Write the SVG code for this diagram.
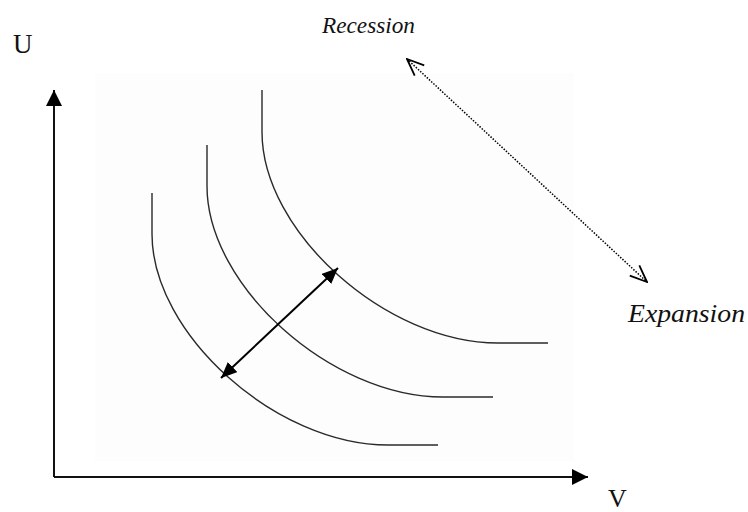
<svg xmlns="http://www.w3.org/2000/svg" width="748" height="512" viewBox="0 0 748 512">
<style>
.curve{fill:none;stroke:#2a2a2a;stroke-width:1.4}
.axis{fill:none;stroke:#111;stroke-width:2}
.lbl{font-family:"Liberation Serif",serif;fill:#111}
.it{font-style:italic}
</style>
<defs>
<marker id="tri" viewBox="0 0 16 14" refX="16" refY="7" markerWidth="16" markerHeight="14" markerUnits="userSpaceOnUse" orient="auto-start-reverse">
<path d="M0,0 L16,7 L0,14 z" fill="#000"/>
</marker>
<marker id="big" viewBox="0 0 16 16" refX="16" refY="8" markerWidth="16" markerHeight="16" markerUnits="userSpaceOnUse" orient="auto">
<path d="M0,0 L16,8 L0,16 z" fill="#000"/>
</marker>
<marker id="open" viewBox="0 0 20 20" refX="19" refY="10" markerWidth="20" markerHeight="20" markerUnits="userSpaceOnUse" orient="auto-start-reverse">
<path d="M2,3 L19,10 L2,17" fill="none" stroke="#000" stroke-width="1.8"/>
</marker>
</defs>
<rect x="95" y="73" width="479" height="388" fill="#fdfdfd"/>
<g id="curve-outer"><path class="curve" d="M262,90 L262,132 C262,232 386,343 498,343 L548,343"/></g>
<g id="curve-middle"><path class="curve" d="M207,145 L207,186 C207,286 331,397 443,397 L493,397"/></g>
<g id="curve-inner"><path class="curve" d="M152,193 L152,234 C152,334 276,445 388,445 L438,445"/></g>
<g id="connectors">
<path class="axis" d="M54,477 L54,90" marker-end="url(#big)" />
<path class="axis" d="M54,477 L588,477" marker-end="url(#big)" />
<path d="M221,378 L338,268" stroke="#000" stroke-width="2" fill="none" marker-start="url(#tri)" marker-end="url(#tri)" />
<path d="M407,59 L647,282" stroke="#000" stroke-width="1.5" stroke-dasharray="1.5,1.5" fill="none" marker-start="url(#open)" marker-end="url(#open)" />
</g>
<g id="label-U"><text class="lbl" x="13" y="53" font-size="27">U</text></g>
<g id="label-V"><text class="lbl" x="608" y="507" font-size="26">V</text></g>
<g id="label-recession"><text class="lbl it" x="322" y="33" font-size="24" textLength="93" lengthAdjust="spacingAndGlyphs">Recession</text></g>
<g id="label-expansion"><text class="lbl it" x="628" y="322" font-size="25" textLength="117" lengthAdjust="spacingAndGlyphs">Expansion</text></g>
</svg>
